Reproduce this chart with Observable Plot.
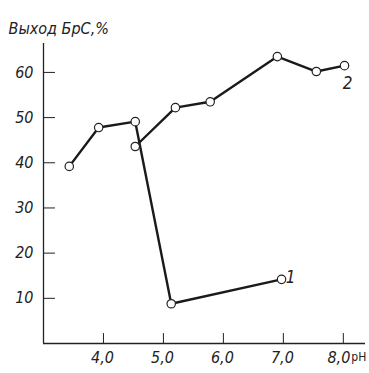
<!DOCTYPE html>
<html><head><meta charset="utf-8">
<script src="https://cdn.jsdelivr.net/npm/d3@7"></script>
<script src="https://cdn.jsdelivr.net/npm/@observablehq/plot@0.6"></script>
<style>body{margin:0;background:#fff}</style>
</head><body><div id="chart"></div>
<script>
const series1X = [3.43, 3.92, 4.53, 5.13, 6.97];
const series1Y = [39.2, 47.8, 49.1, 8.8, 14.2];
const series2X = [4.53, 5.2, 5.78, 6.9, 7.55, 8.02];
const series2Y = [43.6, 52.2, 53.5, 63.5, 60.2, 61.5];
const xTicks = [4, 5, 6, 7, 8];
const yTicks = [10, 20, 30, 40, 50, 60];
const seriesLabels = [{x: 7.12, y: 14.6, t: "1"}, {x: 8.07, y: 57.5, t: "2"}];
const title = "Выход БрС,%";
const unitLabel = "pH";

const s1 = series1X.map((x, i) => ({x, y: series1Y[i]}));
const s2 = series2X.map((x, i) => ({x, y: series2Y[i]}));
const font = "'Liberation Sans Narrow','DejaVu Sans Condensed','Liberation Sans',sans-serif";
const fmt = d => d.toFixed(1).replace(".", ",");
const xMain = xTicks.slice(0, -1);
const xLast = xTicks.slice(-1);

const chart = Plot.plot({
  width: 369, height: 373,
  marginLeft: 43, marginRight: 4, marginTop: 43, marginBottom: 30,
  style: {fontFamily: font, background: "#fff", color: "#222"},
  x: {domain: [3, 8.37], axis: null},
  y: {domain: [0, 66.4], axis: null},
  marks: [
    Plot.ruleX([3], {y1: 0, y2: 66.4, stroke: "#222", strokeWidth: 1.3}),
    Plot.ruleY([0], {x1: 3, x2: 8.37, stroke: "#222", strokeWidth: 1.3}),
    Plot.ruleY(yTicks, {x1: 3, x2: 3.2, stroke: "#222", strokeWidth: 1}),
    Plot.ruleX(xTicks, {y1: 0, y2: 2.2, stroke: "#222", strokeWidth: 1}),
    Plot.text(yTicks, {x: 3, y: d => d, text: d => String(d), textAnchor: "end", dx: -10, fontSize: 16, fontStyle: "italic", fill: "#222"}),
    Plot.text(xMain, {x: d => d, y: 0, text: fmt, dy: 14, dx: -1, fontSize: 16, fontStyle: "italic", fill: "#222"}),
    Plot.text(xLast, {x: d => d, y: 0, text: fmt, dy: 14, dx: 7, textAnchor: "end", fontSize: 16, fontStyle: "italic", fill: "#222"}),
    Plot.text([unitLabel], {x: xLast[0], y: 0, text: d => d, textAnchor: "start", dx: 8, dy: 14, fontSize: 12, fill: "#222"}),
    Plot.line(s1, {x: "x", y: "y", stroke: "#1a1a1a", strokeWidth: 2.4}),
    Plot.line(s2, {x: "x", y: "y", stroke: "#1a1a1a", strokeWidth: 2.4}),
    Plot.dot(s1, {x: "x", y: "y", r: 4.2, fill: "#fff", stroke: "#222", strokeWidth: 1.2}),
    Plot.dot(s2, {x: "x", y: "y", r: 4.2, fill: "#fff", stroke: "#222", strokeWidth: 1.2}),
    Plot.text(seriesLabels, {x: "x", y: "y", text: "t", fontSize: 17, fontStyle: "italic", fill: "#222"}),
    Plot.text([title], {frameAnchor: "top-left", text: d => d, dx: -35, dy: -21, textAnchor: "start", fontSize: 16, fontStyle: "italic", fill: "#222"})
  ]
});
document.getElementById("chart").append(chart);
</script>
</body></html>
